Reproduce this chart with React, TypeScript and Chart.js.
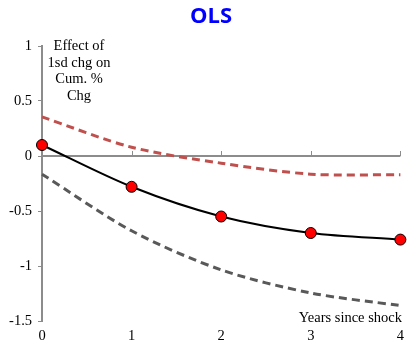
import React, { useEffect, useRef } from "react";
import { Chart, registerables } from "chart.js";

Chart.register(...registerables);

const years = [0, 1, 2, 3, 4];
const estimate = [0.1, -0.28, -0.55, -0.7, -0.76];
const upperBand = [0.355, 0.08, -0.065, -0.165, -0.17];
const lowerBand = [-0.165, -0.68, -1.035, -1.245, -1.36];
const yTicks = [1, 0.5, 0, -0.5, -1, -1.5];
const titleText = "OLS";
const yNoteLines = ["Effect of", "1sd chg on", "Cum. %", "Chg"];
const xNote = "Years since shock";

const SERIF = "'Liberation Serif', 'DejaVu Serif', serif";

const decorPlugin = {
  id: "decor",
  beforeDatasetsDraw(chart: any) {
    const { ctx, scales } = chart;
    const x = scales.x;
    const y = scales.y;
    const y0 = y.getPixelForValue(0);
    ctx.save();
    ctx.strokeStyle = "#8c8c8c";
    ctx.lineWidth = 2;
    ctx.beginPath();
    ctx.moveTo(x.getPixelForValue(0), y0);
    ctx.lineTo(x.getPixelForValue(4), y0);
    ctx.stroke();
    ctx.lineWidth = 1;
    years.forEach((v) => {
      if (v === 0) return;
      const px = Math.round(x.getPixelForValue(v)) + 0.5;
      ctx.beginPath();
      ctx.moveTo(px, y0);
      ctx.lineTo(px, y0 - 5);
      ctx.stroke();
    });
    ctx.restore();
  },
  afterDraw(chart: any) {
    const { ctx } = chart;
    ctx.save();
    ctx.fillStyle = "#0000ff";
    ctx.font = "bold 22px 'Open Sans', 'Liberation Sans', sans-serif";
    ctx.textAlign = "center";
    ctx.textBaseline = "middle";
    ctx.fillText(titleText, 211, 17);
    ctx.fillStyle = "#000";
    ctx.font = "14.5px " + SERIF;
    yNoteLines.forEach((l, i) => {
      ctx.fillText(l, 79, 46 + i * 16.8);
    });
    ctx.textAlign = "right";
    ctx.fillText(xNote, 402, 318);
    ctx.restore();
  },
};

export default function App() {
  const ref = useRef<HTMLCanvasElement | null>(null);
  useEffect(() => {
    if (!ref.current) return;
    const mk = (d: number[]) => years.map((v, i) => ({ x: v, y: d[i] }));
    const chart = new Chart(ref.current, {
      type: "line",
      data: {
        datasets: [
          {
            data: mk(upperBand),
            borderColor: "#c0504d",
            borderWidth: 3,
            borderDash: [8, 5],
            pointRadius: 0,
            tension: 0.3,
            clip: false,
          },
          {
            data: mk(lowerBand),
            borderColor: "#595959",
            borderWidth: 3,
            borderDash: [8, 5],
            pointRadius: 0,
            tension: 0.3,
            clip: false,
          },
          {
            data: mk(estimate),
            borderColor: "#000",
            borderWidth: 2,
            pointRadius: 5.5,
            pointBackgroundColor: "#ff0000",
            pointBorderColor: "#000",
            pointBorderWidth: 1,
            tension: 0.3,
            clip: false,
          },
        ],
      },
      plugins: [decorPlugin],
      options: {
        animation: false,
        responsive: false,
        layout: { padding: { top: 46, right: 4, left: 0, bottom: 0 } },
        plugins: { legend: { display: false }, tooltip: { enabled: false }, title: { display: false } },
        scales: {
          x: {
            type: "linear",
            min: 0,
            max: 4,
            grid: { display: false, drawTicks: false },
            border: { display: false },
            ticks: {
              stepSize: 1,
              color: "#000",
              font: { family: SERIF, size: 14.5 },
              padding: 6,
              maxRotation: 0,
            },
            afterFit(s: any) {
              s.height = 21;
            },
          },
          y: {
            min: -1.5,
            max: 1,
            grid: { drawOnChartArea: false, drawTicks: true, tickLength: 4, color: "#8c8c8c" },
            border: { display: true, color: "#8c8c8c", width: 2 },
            afterBuildTicks(s: any) {
              s.ticks = yTicks.map((v) => ({ value: v }));
            },
            ticks: {
              color: "#000",
              font: { family: SERIF, size: 14.5 },
              padding: 6,
              callback: (v: any) => String(v),
            },
            afterFit(s: any) {
              s.width = 42;
            },
          },
        },
      },
    });
    return () => chart.destroy();
  }, []);
  return (
    <div style={{ position: "fixed", left: 0, top: 0, width: 410, height: 342, background: "#fff" }}>
      <canvas ref={ref} width={410} height={342} />
    </div>
  );
}
